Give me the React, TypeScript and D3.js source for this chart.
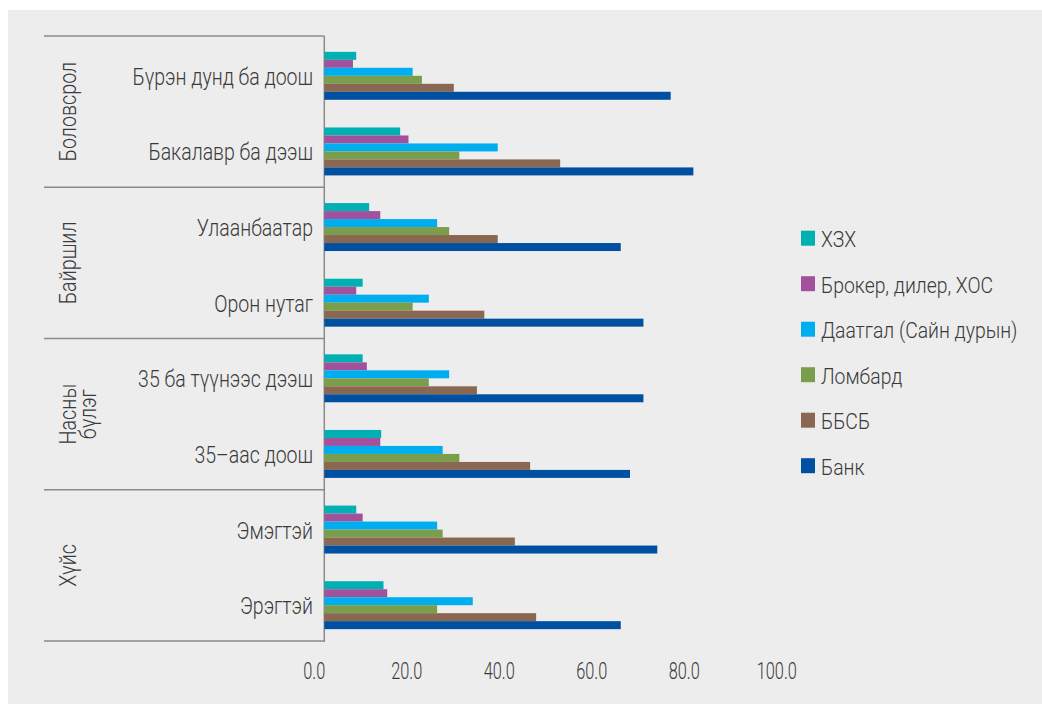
import React from "react";
import * as d3 from "d3";

const categories = [
  "Бүрэн дунд ба доош",
  "Бакалавр ба дээш",
  "Улаанбаатар",
  "Орон нутаг",
  "35 ба түүнээс дээш",
  "35–аас доош",
  "Эмэгтэй",
  "Эрэгтэй",
];
const groupLabels = [["Боловсрол"], ["Байршил"], ["Насны", "бүлэг"], ["Хүйс"]];
const groupSizes = [2, 2, 2, 2];

const seriesNames = ["ХЗХ", "Брокер, дилер, ХОС", "Даатгал (Сайн дурын)", "Ломбард", "ББСБ", "Банк"];
const seriesColors = ["#00b0b2", "#a2529d", "#00aeef", "#7a9e4b", "#8a6751", "#0050a2"];

const xzx = [6.9, 16.4, 9.7, 8.3, 8.3, 12.3, 6.9, 12.8];
const broker = [6.2, 18.2, 12.1, 6.9, 9.2, 12.1, 8.3, 13.6];
const daatgal = [19.1, 37.5, 24.4, 22.6, 27.0, 25.6, 24.4, 32.1];
const lombard = [21.1, 29.2, 27.0, 19.1, 22.6, 29.2, 25.6, 24.4];
const bbsb = [28.0, 51.0, 37.5, 34.6, 33.0, 44.5, 41.2, 45.8];
const bank = [74.9, 79.8, 64.1, 69.0, 69.0, 66.1, 72.0, 64.1];
const seriesValues = [xzx, broker, daatgal, lombard, bbsb, bank];

const xTicks = [0, 20, 40, 60, 80, 100];

const FONT = "Roboto, 'Liberation Sans Narrow', sans-serif";
const TEXT = "#3a3a3a";
const LINE = "#8a8a8a";

export default function App() {
  const x = d3.scaleLinear().domain([0, 100]).range([324.3, 786.8]);
  const y = d3.scaleBand<string>().domain(categories).range([38, 643]).paddingInner(0.366).paddingOuter(0.183);
  const yi = d3.scaleBand<string>().domain(seriesNames).range([0, y.bandwidth()]);
  const boundary = d3.scaleLinear().domain([0, categories.length]).range([36, 641]);

  let acc = 0;
  const groupBounds = groupSizes.map((n) => {
    const a = acc;
    acc += n;
    return [a, acc];
  });

  return (
    <svg width={1042} height={705} style={{ position: "absolute", left: 0, top: 0 }} fontFamily={FONT} fontWeight={300}>
      <rect x={8} y={10} width={1034} height={694} fill="#ededed" />

      {/* group separators */}
      {d3.range(0, groupSizes.length + 1).map((i) => {
        const idx = i === 0 ? 0 : groupBounds[i - 1][1];
        const yy = boundary(idx);
        return <line key={i} x1={44} x2={324.3} y1={yy} y2={yy} stroke={LINE} strokeWidth={1.5} />;
      })}
      <line x1={324.3} x2={324.3} y1={boundary(0)} y2={boundary(categories.length) + 1} stroke={LINE} strokeWidth={1.5} />

      {/* group labels */}
      {groupLabels.map((lines, gi) => {
        const [a, b] = groupBounds[gi];
        const cy = (boundary(a) + boundary(b)) / 2;
        return lines.map((t, li) => (
          <text
            key={gi + "-" + li}
            transform={`translate(${76 + li * 20},${cy}) rotate(-90) scale(0.84,1)`}
            textAnchor="middle"
            fontSize={23.5}
            fill={TEXT}
          >
            {t}
          </text>
        ));
      })}

      {/* category labels */}
      {categories.map((c) => (
        <text
          key={c}
          transform={`translate(313,${(y(c) ?? 0) + y.bandwidth() / 2 + 9}) scale(0.83,1)`}
          textAnchor="end"
          fontSize={23.5}
          fill={TEXT}
        >
          {c}
        </text>
      ))}

      {/* bars */}
      {seriesNames.map((s, si) => (
        <g key={s} fill={seriesColors[si]}>
          {categories.map((c, ci) => (
            <rect
              key={c}
              x={x(0)}
              y={(y(c) ?? 0) + (yi(s) ?? 0)}
              width={x(seriesValues[si][ci]) - x(0)}
              height={yi.bandwidth()}
            />
          ))}
        </g>
      ))}

      {/* x tick labels */}
      {xTicks.map((t) => (
        <text
          key={t}
          transform={`translate(${x(t) - 10},679) scale(0.68,1)`}
          textAnchor="middle"
          fontSize={24}
          fill={TEXT}
        >
          {d3.format(".1f")(t)}
        </text>
      ))}

      {/* legend */}
      {seriesNames.map((s, si) => {
        const top = 230.7 + si * 45.5;
        return (
          <g key={s}>
            <rect x={801} y={top} width={14} height={15} fill={seriesColors[si]} />
            <text transform={`translate(821,${top + 16.5}) scale(0.88,1)`} fontSize={22} fill={TEXT}>
              {s}
            </text>
          </g>
        );
      })}
    </svg>
  );
}
